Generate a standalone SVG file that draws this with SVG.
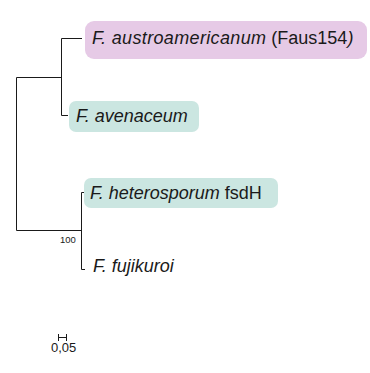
<svg xmlns="http://www.w3.org/2000/svg" width="370" height="373" viewBox="0 0 370 373">
<style>
.br{fill:none;stroke:#1a1a1a;stroke-width:1}
.lbl{font-family:"Liberation Sans",Arial,sans-serif;font-size:18px;fill:#1a1a1a}
.it{font-style:italic}
.pink{fill:#e6cae6}
.teal{fill:#cbe6e1}
.sm{font-family:"Liberation Sans",Arial,sans-serif;font-size:9.5px;fill:#1a1a1a}
.sc{font-family:"Liberation Sans",Arial,sans-serif;font-size:13px;fill:#1a1a1a}
</style>
<rect width="370" height="373" fill="#ffffff"/>
<g id="connectors">
<path class="br" d="M16.5,77.5 V230.5 M16.5,77.5 H61.5 M61.5,38.5 V115.5 M61.5,38.5 H82 M61.5,115.5 H68"/>
<path class="br" d="M16.5,230.5 H81.5 M81.5,192.5 V269.5 M81.5,192.5 H84 M81.5,269.5 H85"/>
<path class="br" d="M58.5,334 V341 M66.5,334 V341 M58.5,337.5 H66.5"/>
</g>
<g id="node-austroamericanum">
<rect class="pink" x="85" y="21" width="282" height="38" rx="9"/>
<text class="lbl" x="92" y="44"><tspan class="it" textLength="174">F. austroamericanum</tspan> (Faus154<tspan class="it">)</tspan></text>
</g>
<g id="node-avenaceum">
<rect class="teal" x="69" y="101" width="130" height="31" rx="7"/>
<text class="lbl it" x="76" y="122">F. avenaceum</text>
</g>
<g id="node-heterosporum">
<rect class="teal" x="84" y="178" width="194" height="30" rx="7"/>
<text class="lbl" x="90" y="199"><tspan class="it">F. heterosporum</tspan> fsdH</text>
</g>
<g id="node-fujikuroi">
<text class="lbl it" x="93" y="272">F. fujikuroi</text>
</g>
<g id="bootstrap">
<text class="sm" x="60" y="243">100</text>
</g>
<g id="scale">
<text class="sc" x="51" y="352">0,05</text>
</g>
</svg>
